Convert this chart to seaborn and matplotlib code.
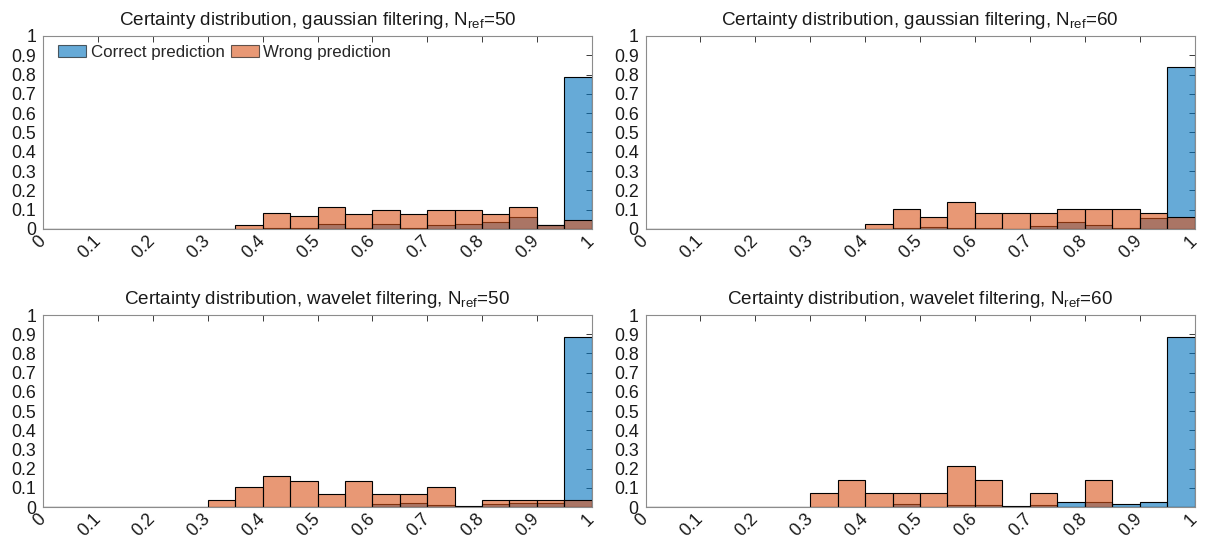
import numpy as np
import pandas as pd
import matplotlib
matplotlib.use("Agg")
import matplotlib.pyplot as plt
from matplotlib.patches import Patch
import seaborn as sns

sns.set_style("white")
plt.rcParams["font.family"] = ["Liberation Sans", "DejaVu Sans"]
plt.rcParams["mathtext.fontset"] = "custom"
plt.rcParams["mathtext.rm"] = "Liberation Sans"
plt.rcParams["mathtext.it"] = "Liberation Sans"

# Certainty histogram bins (20 bins on [0, 1])
bin_edges = [round(0.05 * i, 2) for i in range(21)]
bin_centers = [round(0.025 + 0.05 * i, 3) for i in range(20)]

# Normalised frequencies per bin
gauss50_correct = [0, 0, 0, 0, 0, 0, 0, 0.002, 0.003, 0.007, 0.024, 0.007, 0.024, 0.007, 0.019, 0.024, 0.036, 0.062, 0.019, 0.789]
gauss50_wrong   = [0, 0, 0, 0, 0, 0, 0, 0.019, 0.081, 0.067, 0.116, 0.079, 0.097, 0.079, 0.097, 0.097, 0.079, 0.116, 0.019, 0.048]

gauss60_correct = [0, 0, 0, 0, 0, 0, 0, 0, 0, 0.005, 0.008, 0.003, 0.007, 0, 0.014, 0.036, 0.019, 0.007, 0.055, 0.839]
gauss60_wrong   = [0, 0, 0, 0, 0, 0, 0, 0, 0.024, 0.102, 0.060, 0.142, 0.081, 0.081, 0.081, 0.102, 0.102, 0.102, 0.081, 0.060]

wave50_correct = [0, 0, 0, 0, 0, 0, 0, 0, 0, 0, 0, 0, 0.014, 0.019, 0.009, 0.003, 0.017, 0.020, 0.020, 0.884]
wave50_wrong   = [0, 0, 0, 0, 0, 0, 0.035, 0.102, 0.164, 0.136, 0.067, 0.136, 0.067, 0.067, 0.102, 0, 0.035, 0.035, 0.035, 0.035]

wave60_correct = [0, 0, 0, 0, 0, 0, 0, 0, 0, 0.014, 0, 0.009, 0.009, 0.003, 0.009, 0.024, 0.024, 0.014, 0.024, 0.884]
wave60_wrong   = [0, 0, 0, 0, 0, 0, 0.072, 0.142, 0.072, 0.072, 0.072, 0.214, 0.142, 0, 0.072, 0, 0.142, 0, 0, 0]

tick_values = [round(0.1 * i, 1) for i in range(11)]
tick_labels = ["0", "0.1", "0.2", "0.3", "0.4", "0.5", "0.6", "0.7", "0.8", "0.9", "1"]

panels = [
    ("Certainty distribution, gaussian filtering, N$_{\\mathrm{ref}}$=50", gauss50_correct, gauss50_wrong),
    ("Certainty distribution, gaussian filtering, N$_{\\mathrm{ref}}$=60", gauss60_correct, gauss60_wrong),
    ("Certainty distribution, wavelet filtering, N$_{\\mathrm{ref}}$=50", wave50_correct, wave50_wrong),
    ("Certainty distribution, wavelet filtering, N$_{\\mathrm{ref}}$=60", wave60_correct, wave60_wrong),
]

blue = (0.0, 0.447, 0.741)
orange = (0.850, 0.325, 0.098)
face_alpha = 0.6

W, H = 1208, 542
fig = plt.figure(figsize=(W / 100, H / 100), dpi=100)
# axes boxes in pixels: left, top, right, bottom
boxes_px = [
    (43.3, 36, 591.7, 229),
    (645.5, 36, 1194.5, 229),
    (43.3, 315, 591.7, 507),
    (645.5, 315, 1194.5, 507),
]

frame_gray = "#8c8c8c"
text_col = "#1a1a1a"
tick_fs = 12.8
title_fs = 13.6
legend_fs = 12.2

for idx, (box, (title, correct, wrong)) in enumerate(zip(boxes_px, panels)):
    l, t, r, b = box
    ax = fig.add_axes([l / W, 1 - b / H, (r - l) / W, (b - t) / H])
    df = pd.DataFrame({"certainty": bin_centers, "correct": correct, "wrong": wrong})
    sns.histplot(data=df, x="certainty", weights="correct", bins=bin_edges, stat="count",
                 color=blue, alpha=face_alpha, edgecolor="black", linewidth=0.8, ax=ax)
    sns.histplot(data=df, x="certainty", weights="wrong", bins=bin_edges, stat="count",
                 color=orange, alpha=face_alpha, edgecolor="black", linewidth=0.8, ax=ax)
    ax.set_xlim(0, 1)
    ax.set_ylim(0, 1)
    ax.set_xlabel("")
    ax.set_ylabel("")
    ax.set_xticks(tick_values)
    ax.set_xticklabels(tick_labels, rotation=45, ha="right", va="center",
                       rotation_mode="anchor", fontsize=tick_fs, color=text_col)
    ax.set_yticks(tick_values)
    ax.set_yticklabels(tick_labels, fontsize=tick_fs, color=text_col)
    ax.tick_params(direction="in", length=4, width=0.7, color="#3a3a3a",
                   top=True, right=True)
    ax.tick_params(axis="y", pad=5)
    ax.tick_params(axis="x", pad=7)
    for side in ["top", "right", "left", "bottom"]:
        ax.spines[side].set_visible(True)
        ax.spines[side].set_color(frame_gray)
        ax.spines[side].set_linewidth(0.8)
    ax.set_title(title, fontsize=title_fs, color=text_col, pad=8)
    ax.grid(False)

    if idx == 0:
        handles = [
            Patch(facecolor=blue, alpha=face_alpha, edgecolor="black", linewidth=0.8, label="Correct prediction"),
            Patch(facecolor=orange, alpha=face_alpha, edgecolor="black", linewidth=0.8, label="Wrong prediction"),
        ]
        ax.legend(handles=handles, loc="upper left", bbox_to_anchor=(0.027, 0.955), ncol=2,
                  frameon=False, fontsize=legend_fs, handlelength=1.65, handleheight=0.75,
                  handletextpad=0.28, columnspacing=0.36, borderaxespad=0, borderpad=0)

fig.savefig("out.png", dpi=100)
